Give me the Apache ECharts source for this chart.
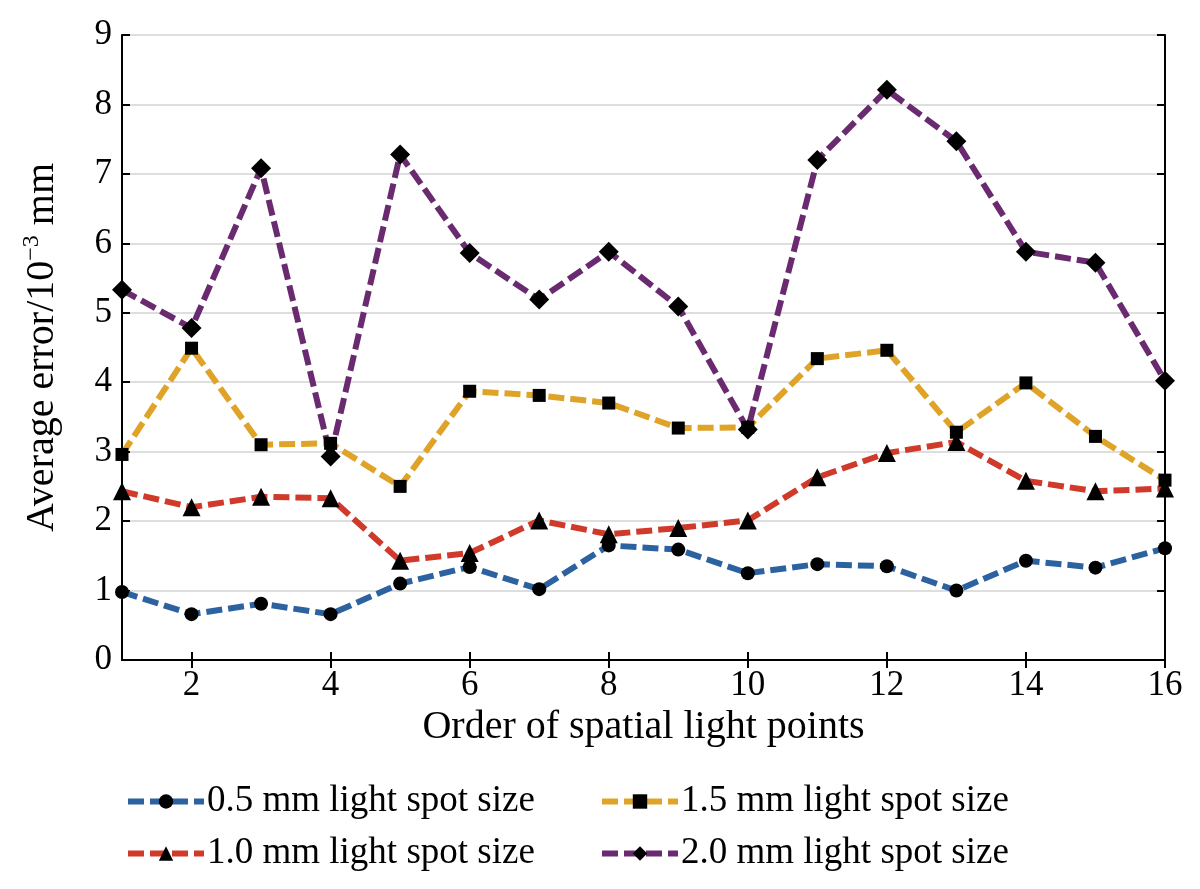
<!DOCTYPE html>
<html>
<head>
<meta charset="utf-8">
<script src="https://cdn.jsdelivr.net/npm/echarts@6/dist/echarts.min.js"></script>
<style>
  html, body { margin: 0; padding: 0; background: #fff; }
  #chart { width: 1200px; height: 889px; }
</style>
</head>
<body>
<div id="chart"></div>
<script>
const points = ['1', '2', '3', '4', '5', '6', '7', '8', '9', '10', '11', '12', '13', '14', '15', '16']
const spot05 = [0.98, 0.66, 0.81, 0.66, 1.10, 1.34, 1.02, 1.65, 1.59, 1.25, 1.38, 1.35, 1.00, 1.43, 1.33, 1.61]
const spot10 = [2.43, 2.20, 2.35, 2.33, 1.43, 1.54, 2.01, 1.81, 1.90, 2.01, 2.63, 2.98, 3.14, 2.58, 2.43, 2.47]
const spot15 = [2.96, 4.49, 3.10, 3.12, 2.50, 3.87, 3.81, 3.70, 3.34, 3.35, 4.34, 4.46, 3.28, 3.99, 3.22, 2.59]
const spot20 = [5.33, 4.78, 7.08, 2.93, 7.28, 5.86, 5.19, 5.88, 5.09, 3.32, 7.20, 8.21, 7.47, 5.88, 5.72, 4.02]
const seriesNames = ['0.5 mm light spot size', '1.0 mm light spot size', '1.5 mm light spot size', '2.0 mm light spot size']

const font = 'Liberation Serif'
const chart = echarts.init(document.getElementById('chart'))

const makeLine = (name, data, color, symbol, size) => ({
  name: name,
  type: 'line',
  data: data,
  symbol: symbol,
  symbolSize: size,
  itemStyle: { color: '#000' },
  lineStyle: { color: color, width: 6, type: [16, 6] },
  z: 3
})

// one legend per slot so the 2x2 block lines up like the figure
const makeLegend = (name, left, top) => ({
  data: [name],
  left: left, top: top,
  itemWidth: 76, itemHeight: 18,
  lineStyle: { width: 6 },
  textStyle: { fontFamily: font, fontSize: 37, color: '#000', padding: [0, 0, 0, -2] }
})

const odd = (index) => index % 2 === 1

chart.setOption({
  animation: false,
  textStyle: { fontFamily: font },
  grid: { left: 122, right: 35, top: 35, bottom: 229 },
  legend: [
    makeLegend(seriesNames[0], 120, 778),
    makeLegend(seriesNames[2], 594, 778),
    makeLegend(seriesNames[1], 120, 830),
    makeLegend(seriesNames[3], 594, 830)
  ],
  xAxis: [
    {
      type: 'category',
      data: points,
      boundaryGap: false,
      name: 'Order of spatial light points',
      nameLocation: 'middle',
      nameGap: 44,
      nameTextStyle: { fontFamily: font, fontSize: 40, color: '#000' },
      axisLine: { lineStyle: { color: '#000', width: 2 } },
      axisTick: { inside: true, length: 8, interval: odd, lineStyle: { color: '#000', width: 2 } },
      axisLabel: { interval: odd, fontFamily: font, fontSize: 35, color: '#000', margin: 8 },
      splitLine: { show: false }
    },
    {
      type: 'category',
      data: points,
      boundaryGap: false,
      position: 'top',
      axisLine: { lineStyle: { color: '#000', width: 2 } },
      axisTick: { inside: true, length: 8, interval: odd, lineStyle: { color: '#000', width: 2 } },
      axisLabel: { show: false },
      splitLine: { show: false }
    }
  ],
  yAxis: [
    {
      type: 'value',
      min: 0, max: 9, interval: 1,
      name: '{t|Average error/10}{s|−3}{t| mm}',
      nameLocation: 'middle',
      nameGap: 58,
      nameRotate: 90,
      nameTextStyle: {
        rich: {
          t: { fontFamily: font, fontSize: 40, color: '#000', lineHeight: 44 },
          s: { fontFamily: font, fontSize: 24, color: '#000', lineHeight: 44, verticalAlign: 'top' }
        }
      },
      axisLine: { show: true, lineStyle: { color: '#000', width: 2 } },
      axisTick: { show: true, inside: true, length: 8, lineStyle: { color: '#000', width: 2 } },
      axisLabel: { fontFamily: font, fontSize: 35, color: '#000', margin: 10 },
      splitLine: { show: true, lineStyle: { color: '#dedede', width: 2 } }
    },
    {
      type: 'value',
      min: 0, max: 9, interval: 1,
      position: 'right',
      axisLine: { show: true, lineStyle: { color: '#000', width: 2 } },
      axisTick: { show: true, inside: true, length: 8, lineStyle: { color: '#000', width: 2 } },
      axisLabel: { show: false },
      splitLine: { show: false }
    }
  ],
  series: [
    makeLine(seriesNames[0], spot05, '#2d62a0', 'circle', 14),
    makeLine(seriesNames[1], spot10, '#cf3a2b', 'triangle', 18),
    makeLine(seriesNames[2], spot15, '#dfa328', 'rect', 13),
    makeLine(seriesNames[3], spot20, '#6a2a70', 'diamond', 20)
  ]
})
</script>
</body>
</html>
